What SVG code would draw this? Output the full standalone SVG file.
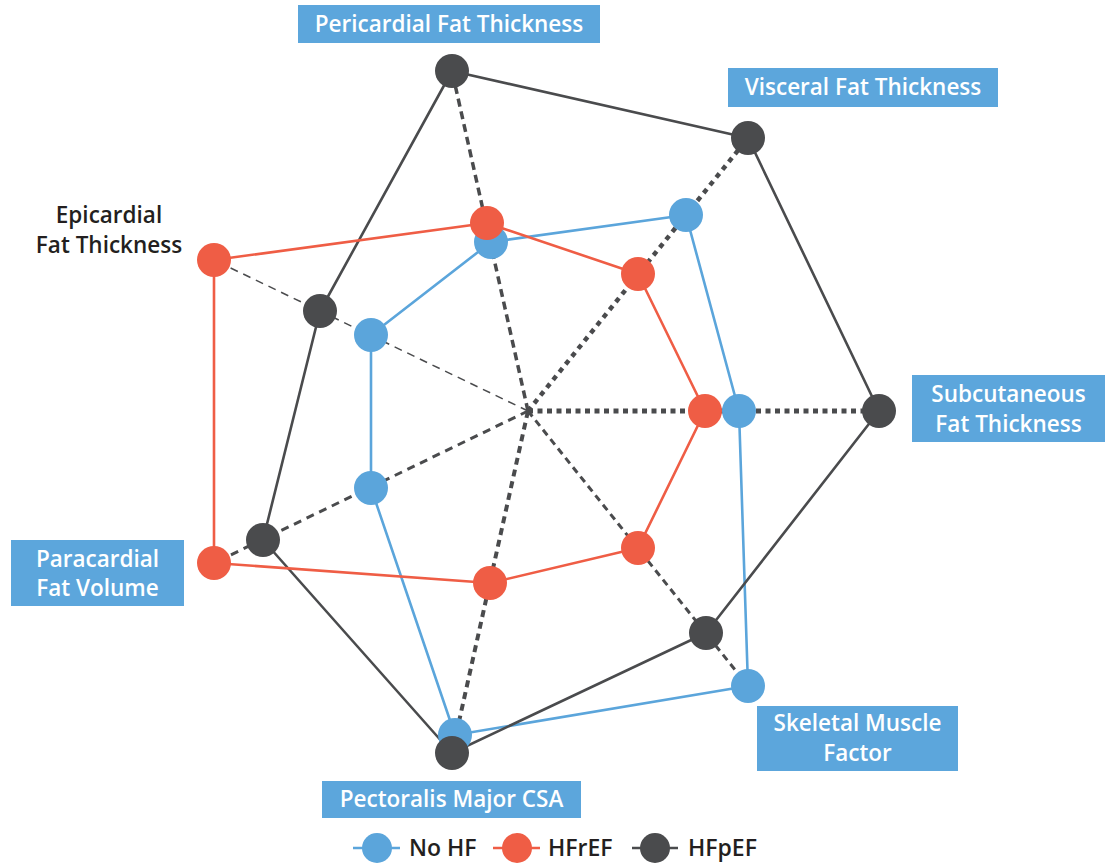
<svg xmlns="http://www.w3.org/2000/svg" width="1108" height="867" viewBox="0 0 1108 867">
  <style>
    .lbl { fill: #5CA6DC; }
    .lt { font-family: "Open Sans", "Noto Sans", sans-serif; font-size: 22.5px; font-weight: 600; fill: #ffffff; text-anchor: middle; }
    .dt { font-family: "Open Sans", "Noto Sans", sans-serif; font-size: 22.5px; font-weight: 600; fill: #231F20; text-anchor: middle; }
    .lg { font-family: "Open Sans", "Noto Sans", sans-serif; font-size: 23px; font-weight: 600; fill: #231F20; }
    .spoke { stroke: #4A4B4D; fill: none; }
    .poly { fill: none; stroke-width: 2.6; stroke-linejoin: round; }
    .blue { fill: #5BA5DB; }
    .red { fill: #EF5D45; }
    .dark { fill: #4A4B4D; }
  </style>
  <rect width="1108" height="867" fill="#ffffff"/>

  <g id="connectors">
    <g id="spokes">
      <line class="spoke" x1="528" y1="411" x2="452" y2="71" stroke-width="3.5" stroke-dasharray="8 5"/>
      <line class="spoke" x1="528" y1="411" x2="748" y2="138" stroke-width="4.5" stroke-dasharray="5 5"/>
      <line class="spoke" x1="528" y1="411" x2="879" y2="411" stroke-width="5" stroke-dasharray="5 4.5"/>
      <line class="spoke" x1="528" y1="411" x2="748" y2="686" stroke-width="3" stroke-dasharray="7 5"/>
      <line class="spoke" x1="528" y1="411" x2="452" y2="753" stroke-width="4" stroke-dasharray="7 5"/>
      <line class="spoke" x1="528" y1="411" x2="214" y2="563" stroke-width="3" stroke-dasharray="8 6"/>
      <line class="spoke" x1="528" y1="411" x2="214" y2="260" stroke-width="1.5" stroke-dasharray="8 6"/>
    </g>
    <polygon id="poly-noHF" class="poly" stroke="#5BA5DB" points="491,242 686,215 739,411 748,686 455,735 371,488 371,335"/>
    <polygon id="poly-HFpEF" class="poly" stroke="#4A4B4D" points="452,71 748,138 879,411 706,633 452,753 263,540 320,311"/>
    <polygon id="poly-HFrEF" class="poly" stroke="#EF5D45" points="487,223 638,274 705,411 638,548 490,583 214,563 214,260"/>
  </g>

  <g id="nodes-noHF">
    <circle id="nohf-pericardial" class="blue" cx="491" cy="242" r="17"/>
    <circle id="nohf-visceral" class="blue" cx="686" cy="215" r="17"/>
    <circle id="nohf-subcutaneous" class="blue" cx="739" cy="411" r="17"/>
    <circle id="nohf-skeletal" class="blue" cx="748" cy="686" r="17"/>
    <circle id="nohf-pectoralis" class="blue" cx="455" cy="735" r="17"/>
    <circle id="nohf-paracardial" class="blue" cx="371" cy="488" r="17"/>
    <circle id="nohf-epicardial" class="blue" cx="371" cy="335" r="17"/>
  </g>
  <g id="nodes-HFrEF">
    <circle id="hfref-pericardial" class="red" cx="487" cy="223" r="17"/>
    <circle id="hfref-visceral" class="red" cx="638" cy="274" r="17"/>
    <circle id="hfref-subcutaneous" class="red" cx="705" cy="411" r="17"/>
    <circle id="hfref-skeletal" class="red" cx="638" cy="548" r="17"/>
    <circle id="hfref-pectoralis" class="red" cx="490" cy="583" r="17"/>
    <circle id="hfref-paracardial" class="red" cx="214" cy="563" r="17"/>
    <circle id="hfref-epicardial" class="red" cx="214" cy="260" r="17"/>
  </g>
  <g id="nodes-HFpEF">
    <circle id="hfpef-pericardial" class="dark" cx="452" cy="71" r="17"/>
    <circle id="hfpef-visceral" class="dark" cx="748" cy="138" r="17"/>
    <circle id="hfpef-subcutaneous" class="dark" cx="879" cy="411" r="17"/>
    <circle id="hfpef-skeletal" class="dark" cx="706" cy="633" r="17"/>
    <circle id="hfpef-pectoralis" class="dark" cx="452" cy="753" r="17"/>
    <circle id="hfpef-paracardial" class="dark" cx="263" cy="540" r="17"/>
    <circle id="hfpef-epicardial" class="dark" cx="320" cy="311" r="17"/>
  </g>

  <g id="label-pericardial">
    <rect class="lbl" x="298" y="5" width="302" height="38"/>
    <text class="lt" x="449" y="32">Pericardial Fat Thickness</text>
  </g>
  <g id="label-visceral">
    <rect class="lbl" x="728" y="68" width="270" height="39"/>
    <text class="lt" x="863" y="95">Visceral Fat Thickness</text>
  </g>
  <g id="label-subcutaneous">
    <rect class="lbl" x="912" y="375" width="193" height="67"/>
    <text class="lt" x="1008.5" y="402">Subcutaneous</text>
    <text class="lt" x="1008.5" y="432">Fat Thickness</text>
  </g>
  <g id="label-skeletal">
    <rect class="lbl" x="757" y="706" width="201" height="65"/>
    <text class="lt" x="857.5" y="731">Skeletal Muscle</text>
    <text class="lt" x="857.5" y="761">Factor</text>
  </g>
  <g id="label-pectoralis">
    <rect class="lbl" x="322" y="781" width="259" height="37"/>
    <text class="lt" x="451.5" y="807">Pectoralis Major CSA</text>
  </g>
  <g id="label-paracardial">
    <rect class="lbl" x="11" y="540" width="173" height="66"/>
    <text class="lt" x="97.5" y="567">Paracardial</text>
    <text class="lt" x="97.5" y="596">Fat Volume</text>
  </g>
  <g id="label-epicardial">
    <text class="dt" x="109" y="223">Epicardial</text>
    <text class="dt" x="109" y="253">Fat Thickness</text>
  </g>

  <g id="legend">
    <g id="legend-noHF">
      <line x1="353" y1="848" x2="400" y2="848" stroke="#5BA5DB" stroke-width="2.5"/>
      <circle class="blue" cx="377" cy="848" r="15"/>
      <text class="lg" x="409" y="856">No HF</text>
    </g>
    <g id="legend-HFrEF">
      <line x1="493" y1="848" x2="540" y2="848" stroke="#EF5D45" stroke-width="2.5"/>
      <circle class="red" cx="517" cy="848" r="15"/>
      <text class="lg" x="548" y="856">HFrEF</text>
    </g>
    <g id="legend-HFpEF">
      <line x1="632" y1="848" x2="678" y2="848" stroke="#4A4B4D" stroke-width="2.5"/>
      <circle class="dark" cx="655" cy="848" r="15"/>
      <text class="lg" x="688" y="856">HFpEF</text>
    </g>
  </g>
</svg>
